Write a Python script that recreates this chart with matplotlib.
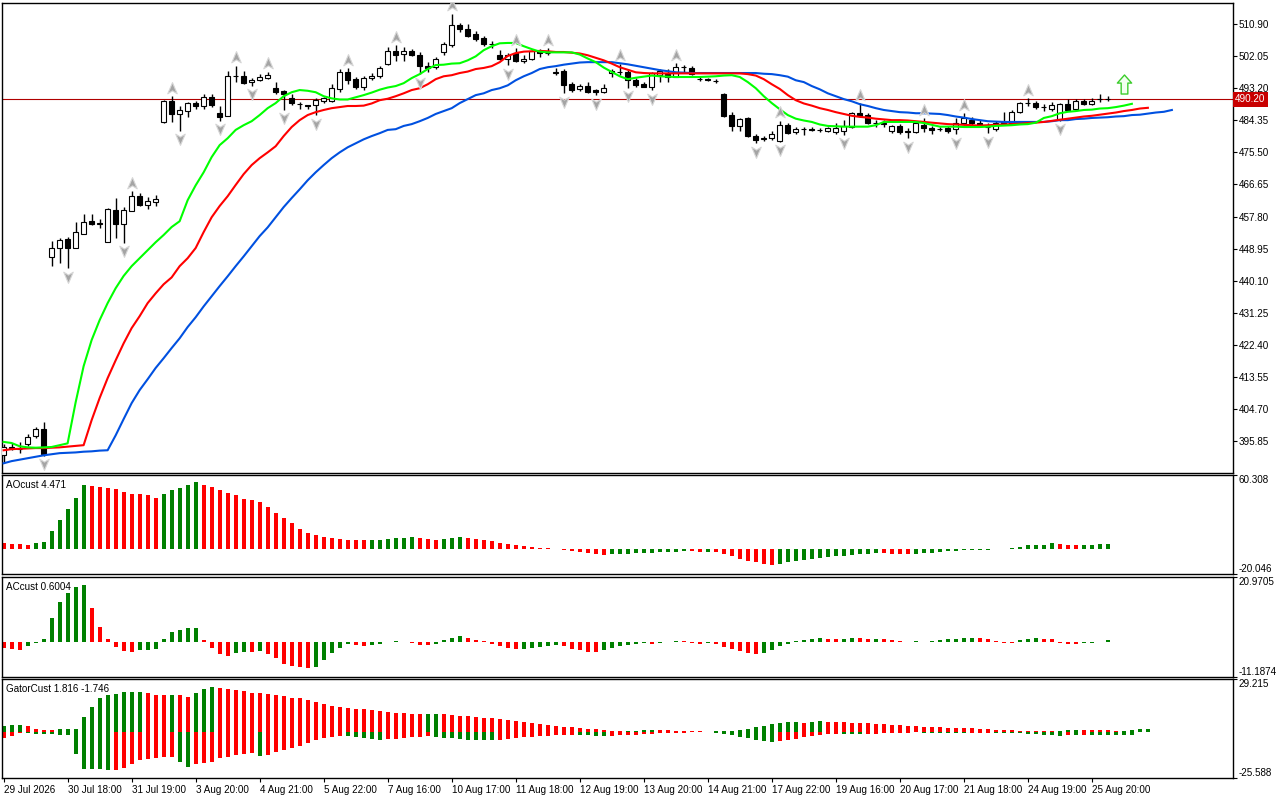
import numpy as np
import matplotlib.pyplot as plt
from matplotlib.path import Path
from matplotlib import transforms

# candles (one per bar, 139 bars)
opens = [392.0, 394.0, 393.6, 394.9, 397.1, 399.1, 446.5, 449.0, 451.5, 449.2,
         453.1, 456.5, 455.8, 450.8, 459.5, 455.6, 459.4, 463.4, 461.1, 461.9,
         483.9, 489.7, 486.2, 487.0, 489.0, 488.4, 490.8, 486.5, 485.6, 496.6,
         496.6, 494.8, 495.4, 496.1, 493.4, 492.4, 490.6, 488.8, 488.7, 488.5,
         489.7, 489.7, 492.9, 497.7, 495.7, 493.6, 495.9, 496.5, 499.9, 503.4,
         502.6, 503.4, 502.5, 499.4, 499.1, 503.1, 505.1, 510.6, 509.5, 508.1,
         507.0, 505.3, 502.5, 501.4, 502.8, 500.8, 501.4, 503.4, 503.0, 497.5,
         498.0, 494.3, 492.9, 493.8, 492.7, 492.2, 497.3, 497.7, 497.7, 495.4,
         494.3, 493.6, 496.8, 497.1, 496.4, 499.0, 498.7, 495.7, 495.7, 495.3,
         491.5, 485.8, 482.8, 484.9, 480.1, 479.1, 479.6, 478.7, 483.0, 481.2,
         481.9, 482.0, 481.8, 481.5, 481.1, 481.4, 482.6, 486.3, 485.8, 483.5,
         483.7, 481.4, 482.8, 481.4, 481.0, 483.0, 482.3, 481.9, 482.1, 481.9,
         483.5, 484.4, 483.7, 482.6, 481.9, 483.7, 483.7, 486.7, 489.0, 489.0,
         487.9, 487.6, 484.6, 488.8, 487.4, 489.7, 488.8, 490.1, 490.2]
highs = [395.0, 395.2, 395.7, 397.8, 399.6, 401.0, 451.0, 451.8, 452.2, 456.2,
         458.5, 458.5, 457.0, 460.1, 462.8, 460.5, 464.8, 464.3, 463.3, 463.7,
         490.0, 491.0, 488.3, 489.5, 489.7, 491.5, 491.5, 488.4, 497.9, 499.4,
         497.9, 495.9, 497.1, 497.7, 494.8, 492.7, 491.5, 489.5, 488.7, 490.4,
         490.8, 494.5, 498.4, 498.7, 496.2, 496.5, 497.3, 499.3, 504.6, 505.1,
         504.6, 504.0, 503.3, 500.5, 501.9, 505.9, 513.7, 511.1, 510.9, 508.9,
         507.6, 506.1, 503.7, 502.8, 504.2, 502.5, 503.7, 503.9, 504.2, 498.7,
         498.4, 494.9, 494.4, 494.8, 492.9, 494.4, 498.6, 499.9, 498.4, 496.0,
         494.9, 497.7, 498.4, 498.4, 500.1, 499.5, 499.2, 496.2, 496.0, 495.8,
         491.8, 486.7, 485.0, 485.3, 480.5, 479.9, 481.5, 484.2, 483.5, 482.4,
         482.6, 482.5, 482.3, 482.6, 483.7, 484.4, 486.6, 489.0, 486.5, 484.5,
         484.3, 483.0, 483.3, 482.1, 483.9, 484.9, 482.8, 482.5, 482.8, 484.9,
         486.3, 485.3, 484.4, 483.5, 484.2, 486.7, 487.2, 489.5, 490.4, 489.6,
         488.8, 489.4, 489.1, 490.1, 490.1, 490.1, 490.4, 491.5, 491.1]
lows = [389.8, 393.4, 392.5, 394.5, 396.6, 391.8, 444.1, 445.0, 443.5, 449.0,
        453.0, 455.4, 454.5, 450.7, 452.0, 450.5, 459.2, 460.8, 460.0, 460.8,
        483.7, 483.9, 481.5, 485.3, 487.4, 487.5, 488.1, 484.2, 485.6, 495.0,
        494.5, 493.9, 495.3, 495.7, 491.5, 487.2, 488.5, 487.6, 487.6, 485.8,
        489.2, 489.5, 492.2, 494.5, 493.1, 492.8, 495.4, 495.9, 499.6, 500.8,
        500.8, 502.0, 497.0, 497.8, 498.6, 502.5, 504.6, 508.8, 507.4, 506.2,
        504.8, 504.4, 501.0, 499.6, 500.5, 500.1, 500.9, 501.9, 502.3, 496.8,
        491.8, 492.2, 492.4, 491.9, 491.3, 491.8, 496.4, 496.8, 493.4, 493.6,
        493.5, 492.7, 495.0, 495.0, 496.2, 497.7, 496.8, 495.3, 495.1, 494.6,
        485.2, 481.5, 481.3, 479.8, 478.0, 478.7, 478.8, 478.4, 480.5, 480.7,
        480.4, 481.3, 481.2, 481.1, 480.6, 480.3, 482.3, 485.3, 483.2, 482.5,
        482.5, 480.9, 480.6, 479.4, 480.9, 481.2, 480.6, 481.3, 480.8, 480.5,
        483.0, 482.9, 482.6, 480.8, 481.5, 483.0, 483.3, 486.5, 488.3, 487.6,
        486.8, 486.8, 484.2, 487.0, 486.9, 488.5, 488.5, 489.5, 489.7]
closes = [394.3, 394.1, 393.7, 396.9, 399.1, 392.4, 449.0, 451.3, 449.2, 453.4,
          456.2, 455.7, 455.9, 459.8, 455.6, 459.6, 463.4, 461.0, 462.0, 462.6,
          489.7, 486.2, 487.2, 489.0, 488.4, 490.8, 488.5, 485.2, 496.6, 496.7,
          494.7, 495.6, 496.2, 496.8, 492.2, 491.5, 489.0, 488.8, 488.3, 489.9,
          490.4, 493.2, 497.7, 495.4, 493.6, 495.9, 496.5, 498.7, 503.4, 502.5,
          503.4, 502.3, 499.3, 498.7, 501.4, 505.3, 510.6, 509.5, 507.7, 506.8,
          505.4, 505.4, 501.2, 502.3, 500.8, 501.4, 503.4, 502.8, 503.0, 497.6,
          494.1, 492.7, 493.8, 492.2, 492.2, 493.4, 498.0, 497.8, 495.4, 494.1,
          493.6, 497.3, 498.0, 496.4, 499.1, 499.0, 497.1, 495.7, 495.4, 495.3,
          485.5, 482.8, 484.7, 480.0, 478.9, 479.6, 480.5, 483.0, 480.9, 481.9,
          481.9, 481.6, 481.7, 482.2, 482.1, 482.8, 486.3, 485.6, 483.5, 483.6,
          483.3, 482.8, 481.0, 481.0, 483.5, 482.1, 481.7, 481.9, 481.5, 483.5,
          484.9, 483.5, 483.0, 482.6, 483.7, 483.9, 486.7, 489.0, 489.0, 487.9,
          487.9, 488.5, 488.8, 487.2, 489.7, 488.8, 489.8, 490.1, 490.2]

# alligator lines, already shifted forward (jaw 8, teeth 5, lips 3 bars)
jaw = [389.7, 390.3, 390.7, 391.1, 391.5, 391.9, 392.2, 392.5, 392.6, 392.7,
       392.9, 393.0, 393.2, 393.3, 397.4, 401.9, 406.3, 409.9, 412.9, 416.0,
       418.7, 421.5, 424.2, 427.3, 430.0, 433.0, 435.8, 438.6, 441.3, 444.1,
       446.8, 449.6, 452.4, 454.8, 457.6, 460.4, 462.9, 465.3, 467.8, 470.0,
       472.0, 473.9, 475.5, 476.9, 478.0, 479.1, 480.0, 480.8, 481.7, 481.9,
       482.8, 483.3, 484.1, 485.0, 486.1, 486.9, 487.7, 489.1, 490.2, 491.3,
       491.8, 492.7, 493.2, 494.0, 495.4, 496.5, 497.4, 498.5, 499.0, 499.3,
       499.7, 500.0, 500.3, 500.4, 500.4, 500.4, 500.4, 500.1, 499.8, 499.4,
       499.0, 498.6, 498.2, 497.9, 497.6, 497.5, 497.4, 497.4, 497.4, 497.4,
       497.4, 497.4, 497.4, 497.4, 497.4, 497.2, 497.1, 496.8, 496.4, 495.4,
       494.9, 493.8, 492.9, 491.8, 491.0, 490.2, 489.6, 488.8, 488.3, 487.7,
       487.2, 486.9, 486.6, 486.5, 486.3, 486.3, 486.2, 486.1, 485.8, 485.4,
       485.1, 484.7, 484.4, 484.1, 484.0, 483.9, 483.9, 483.9, 483.9, 483.9,
       483.9, 484.1, 484.4, 484.4, 484.7, 484.8, 485.0, 485.1, 485.2, 485.4,
       485.5, 485.8, 485.9, 486.2, 486.5, 486.7, 487.2]
teeth = [393.3, 393.6, 393.7, 393.8, 393.9, 393.9, 394.0, 394.1, 394.3, 394.5,
         394.7, 401.6, 407.7, 413.2, 418.1, 422.8, 427.0, 430.3, 433.9, 436.6,
         439.1, 441.0, 444.1, 446.3, 449.1, 453.5, 457.6, 460.7, 463.4, 466.5,
         469.5, 472.0, 473.9, 475.5, 477.2, 480.0, 482.5, 484.4, 485.8, 486.6,
         487.2, 487.7, 488.0, 488.3, 488.3, 488.4, 489.0, 489.9, 490.3, 491.0,
         491.8, 492.7, 493.2, 494.3, 495.7, 496.5, 496.8, 497.4, 497.8, 498.5,
         498.8, 499.3, 500.4, 502.1, 502.9, 503.3, 503.4, 503.5, 503.4, 503.2,
         503.2, 503.0, 502.8, 502.3, 501.6, 500.9, 500.0, 499.0, 498.3, 497.6,
         497.4, 497.3, 497.3, 497.3, 497.3, 497.3, 497.3, 497.3, 497.3, 497.3,
         497.3, 497.3, 497.3, 497.1, 496.7, 495.7, 494.3, 493.0, 491.3, 489.9,
         489.0, 488.4, 487.7, 487.2, 486.6, 486.1, 485.6, 485.3, 485.1, 484.8,
         484.6, 484.4, 484.4, 484.3, 484.1, 483.9, 483.7, 483.5, 483.3, 483.2,
         483.1, 483.0, 482.9, 483.0, 483.1, 483.2, 483.3, 483.4, 483.6, 483.7,
         483.9, 484.2, 484.5, 484.8, 485.1, 485.4, 485.6, 485.9, 486.2, 486.5,
         486.9, 487.2, 487.6, 487.8]
lips = [395.6, 395.3, 394.4, 394.1, 394.0, 394.1, 394.2, 394.7, 395.2, 406.5,
        416.5, 423.7, 429.2, 433.9, 438.0, 441.4, 444.1, 446.3, 448.5, 450.7,
        452.7, 454.9, 456.5, 462.3, 466.4, 470.0, 474.2, 477.5, 479.4, 481.7,
        483.0, 484.1, 485.8, 487.7, 489.1, 491.0, 492.1, 492.7, 492.5, 492.1,
        491.0, 490.4, 490.1, 490.1, 490.7, 491.3, 492.0, 492.8, 493.4, 493.8,
        494.6, 496.0, 497.1, 498.5, 499.6, 499.7, 500.0, 500.1, 500.9, 502.0,
        503.7, 504.8, 505.6, 505.7, 505.7, 504.8, 504.0, 503.3, 503.1, 503.1,
        503.1, 503.1, 502.5, 501.4, 500.4, 498.9, 497.7, 496.5, 495.7, 496.1,
        496.4, 496.7, 496.5, 496.4, 496.3, 496.3, 496.3, 496.3, 496.4, 496.5,
        496.7, 496.8, 496.3, 494.9, 493.2, 491.0, 489.1, 487.4, 485.8, 484.8,
        484.3, 483.9, 483.2, 482.8, 482.7, 482.6, 482.6, 482.6, 482.6, 483.0,
        483.9, 483.9, 483.9, 483.9, 483.9, 483.6, 483.1, 482.6, 482.6, 482.6,
        482.5, 482.5, 482.5, 482.6, 482.8, 482.9, 483.0, 483.2, 483.3, 483.7,
        485.0, 485.5, 486.3, 486.7, 486.9, 487.2, 487.3, 487.6, 487.7, 488.0,
        488.4, 488.9]

fractal_up = [16, 21, 29, 33, 43, 49, 56, 64, 68, 77, 84, 97, 107, 115, 120, 128]
fractal_down = [5, 8, 15, 22, 27, 31, 35, 39, 52, 63, 70, 74, 78, 81, 94, 97,
                105, 113, 119, 123, 132]
signal_bar = 140
signal_price = 494.5
last_price = 490.20

ao = [5.0, 4.8, 4.1, 4.0, 4.9, 6.0, 15.0, 24.0, 32.8, 41.8,
      51.9, 51.1, 50.0, 49.8, 48.4, 46.7, 45.1, 44.5, 43.7, 41.8,
      45.1, 47.8, 49.2, 51.9, 54.1, 51.9, 50.0, 47.6, 45.4, 44.3,
      41.0, 39.6, 38.0, 33.9, 29.8, 25.4, 21.3, 16.4, 13.1, 11.5,
      10.4, 9.5, 8.8, 8.0, 7.5, 7.3, 7.4, 7.8, 8.5, 9.0,
      9.5, 9.8, 9.0, 8.5, 8.0, 8.2, 9.0, 10.0, 9.5, 8.6,
      7.5, 6.5, 5.5, 4.5, 3.5, 2.8, 2.0, 1.4, 0.8, 0.3,
      -0.3, -1.0, -2.0, -3.0, -3.8, -4.2, -4.0, -3.7, -3.4, -3.1,
      -2.8, -2.5, -2.2, -1.9, -1.7, -1.5, -1.6, -2.0, -1.8, -2.2,
      -3.5, -5.5, -7.5, -9.0, -10.5, -11.8, -12.2, -11.5, -10.5, -9.5,
      -8.7, -7.9, -7.0, -6.3, -5.6, -5.0, -4.3, -3.8, -3.3, -3.0,
      -3.2, -3.4, -3.6, -3.7, -3.4, -3.0, -2.5, -2.0, -1.5, -1.0,
      -0.7, -0.5, -0.3, -0.1, 0.2, 0.5, 0.9, 2.0, 3.3, 3.8,
      4.0, 4.9, 4.1, 4.0, 3.3, 3.5, 3.8, 4.2, 4.471]
ac = [-1.7, -2.3, -2.35, -1.2, -0.3, 1.0, 7.9, 13.0, 15.8, 17.6,
      18.3, 10.8, 5.0, 1.0, -1.5, -2.9, -2.95, -2.6, -2.5, -2.3,
      1.2, 3.2, 3.9, 4.5, 4.6, 0.6, -1.8, -3.9, -4.4, -3.5,
      -3.1, -3.2, -2.9, -3.7, -5.1, -6.9, -7.5, -8.0, -8.3, -8.0,
      -5.8, -3.5, -1.8, -0.6, -0.9, -1.2, -0.8, -0.5, 0.2, 0.4,
      0.1, -0.2, -0.8, -1.0, -0.4, 0.6, 1.5, 1.9, 1.3, 0.8,
      0.4, -0.5, -1.2, -1.8, -2.2, -2.0, -1.7, -1.4, -1.1, -0.8,
      -1.3, -2.0, -2.6, -3.0, -3.2, -2.6, -1.8, -1.2, -0.8, -0.4,
      -0.2, -0.5, -0.3, 0.2, 0.5, 0.3, -0.2, -0.5, -0.3, -0.6,
      -1.5, -2.3, -2.9, -3.4, -3.8, -3.3, -2.5, -1.3, -0.4, 0.3,
      0.8, 1.1, 1.3, 1.2, 1.1, 1.2, 1.4, 1.3, 1.0, 1.2,
      1.1, 0.8, 0.5, 0.2, 0.4, 0.1, 0.3, 0.6, 0.9, 1.2,
      1.25, 1.5, 1.4, 0.9, 0.3, -0.1, -0.3, 0.6, 1.2, 1.5,
      1.2, 0.9, -0.3, -0.5, -0.6, -0.3, -0.1, 0.2, 0.6004]
gator_up = [3.1, 3.7, 3.75, 3.2, 1.9, 1.3, 1.2, 1.7, 1.8, 1.9,
            8.4, 14.0, 19.0, 20.3, 20.9, 21.8, 22.1, 22.2, 21.4, 20.5,
            20.3, 20.4, 20.2, 19.4, 21.4, 23.7, 24.6, 24.2, 23.7, 23.3,
            22.7, 21.5, 21.3, 20.9, 20.5, 19.9, 19.0, 18.6, 17.7, 16.8,
            15.3, 14.5, 13.8, 13.2, 12.9, 12.5, 12.0, 11.4, 11.0, 10.6,
            10.2, 9.9, 9.8, 10.0, 10.1, 9.7, 9.3, 9.0, 8.8, 8.3,
            7.8, 7.5, 7.0, 6.5, 6.0, 5.4, 4.8, 4.2, 3.6, 3.2,
            2.8, 2.5, 2.2, 1.8, 1.4, 1.0, 0.6, 0.3, 0.4, 0.8,
            1.1, 1.3, 1.2, 1.0, 0.8, 0.6, 0.4, 0.3, 0.2, 0.3,
            0.5, 0.8, 1.2, 1.8, 2.6, 3.4, 4.2, 4.8, 5.3, 5.5,
            5.2, 5.6, 5.8, 5.7, 5.5, 5.4, 5.2, 5.0, 4.8, 4.6,
            4.3, 4.0, 3.7, 3.4, 3.1, 2.9, 2.7, 2.5, 2.3, 2.2,
            2.0, 1.95, 1.9, 1.85, 1.2, 1.1, 0.9, 0.8, 0.6, 0.5,
            0.4, 0.3, 0.5, 0.9, 1.3, 1.25, 1.2, 1.15, 1.1, 0.5,
            0.6, 0.9, 1.4, 1.816]
gator_down = [-3.4, -2.4, -0.5, -0.6, -0.9, -0.93, -1.1, -1.5, -1.55, -12.1,
              -20.5, -20.55, -20.6, -21.1, -21.0, -19.8, -17.9, -15.5, -14.9, -14.6,
              -14.0, -13.6, -16.4, -19.2, -17.9, -17.3, -16.8, -14.6, -14.0, -12.7,
              -12.1, -11.8, -13.3, -12.7, -10.8, -9.9, -9.0, -8.0, -6.2, -4.7,
              -3.4, -2.6, -2.2, -2.4, -2.9, -3.5, -4.0, -4.3, -4.1, -3.8,
              -3.4, -2.9, -2.6, -2.5, -2.7, -3.1, -3.6, -4.0, -4.3, -4.4,
              -4.6, -4.7, -4.5, -4.0, -3.5, -3.0, -2.7, -2.5, -2.2, -1.9,
              -1.6, -1.4, -1.5, -1.8, -2.1, -2.2, -2.0, -1.8, -1.6, -1.4,
              -1.2, -1.0, -0.8, -0.6, -0.5, -0.3, -0.2, -0.1, -0.2, -0.5,
              -1.0, -1.8, -2.7, -3.6, -4.4, -5.0, -5.3, -5.2, -4.6, -3.8,
              -2.9, -2.2, -1.6, -1.2, -1.0, -1.1, -1.2, -1.3, -1.1, -0.9,
              -0.7, -0.5, -0.4, -0.3, -0.2, -0.3, -0.4, -0.5, -0.6, -0.7,
              -0.75, -0.7, -0.6, -0.5, -0.55, -0.6, -0.65, -0.7, -0.9, -1.1,
              -1.5, -1.9, -2.0, -1.8, -1.9, -1.5, -1.55, -1.6, -1.65, -1.7,
              -1.72, -1.746]

price_ticks = [510.90, 502.05, 493.20, 484.35, 475.50, 466.65, 457.80,
               448.95, 440.10, 431.25, 422.40, 413.55, 404.70, 395.85]
time_labels = ['29 Jul 2026', '30 Jul 18:00', '31 Jul 19:00', '3 Aug 20:00',
               '4 Aug 21:00', '5 Aug 22:00', '7 Aug 16:00', '10 Aug 17:00',
               '11 Aug 18:00', '12 Aug 19:00', '13 Aug 20:00', '14 Aug 21:00',
               '17 Aug 22:00', '19 Aug 16:00', '20 Aug 17:00', '21 Aug 18:00',
               '24 Aug 19:00', '25 Aug 20:00']

plt.rcParams['font.family'] = ['Liberation Sans', 'DejaVu Sans']
FS = 7.1

GREEN = '#008000'
RED = '#ff0000'


def trend_colors(vals, first, use_abs=False):
    v = np.abs(vals) if use_abs else np.asarray(vals)
    cols = [first]
    for a, b in zip(v[:-1], v[1:]):
        cols.append(GREEN if b > a else RED)
    return cols


fig = plt.figure(figsize=(12.8, 8), dpi=100)
L, W = 2 / 1280, 1230.7 / 1280
ax = fig.add_axes([L, 0.4091, W, 0.5875])
ax_ao = fig.add_axes([L, 0.2821, W, 0.1245])
ax_ac = fig.add_axes([L, 0.1534, W, 0.1258])
ax_gt = fig.add_axes([L, 0.0271, W, 0.1241])

for a in (ax, ax_ao, ax_ac, ax_gt):
    a.set_xlim(-0.2, 153.6)
    for s in a.spines.values():
        s.set_linewidth(1.0)
    a.yaxis.tick_right()
    a.tick_params(axis='y', direction='out', length=3, width=0.8, pad=1.5, labelsize=FS)
    a.tick_params(axis='x', bottom=False, labelbottom=False)

# main chart
o, h, l, c = map(np.array, (opens, highs, lows, closes))
idx = np.arange(len(o))
bull = c >= o
ax.axhline(last_price, color='#b00000', lw=0.8, zorder=1)
ax.vlines(idx, l, h, color='black', lw=1.0, zorder=2)
ax.bar(idx, np.abs(c - o), bottom=np.minimum(o, c), width=0.62,
       color=['white' if b else 'black' for b in bull],
       edgecolor='black', linewidth=0.8, zorder=3)

ax.plot(np.arange(len(jaw)), jaw, color='#0050e0', lw=1.5, zorder=4)
ax.plot(np.arange(len(teeth)), teeth, color='#ff0000', lw=1.5, zorder=4)
ax.plot(np.arange(len(lips)), lips, color='#00ff00', lw=1.5, zorder=4)

up_path = Path([(0, 1), (0.8, -0.9), (0, -0.4), (-0.8, -0.9), (0, 1)],
               [Path.MOVETO, Path.LINETO, Path.LINETO, Path.LINETO, Path.CLOSEPOLY])
down_path = Path(up_path.vertices * [1, -1], up_path.codes)
t_up = transforms.offset_copy(ax.transData, fig=fig, y=8.5, units='dots')
t_dn = transforms.offset_copy(ax.transData, fig=fig, y=-8.5, units='dots')
ax.plot(fractal_up, h[fractal_up], ls='none', marker=up_path, ms=8.5,
        mfc='#a4a4a4', mec='#d6d6d6', mew=0.8, transform=t_up, zorder=5)
ax.plot(fractal_down, l[fractal_down], ls='none', marker=down_path, ms=8.5,
        mfc='#a4a4a4', mec='#d6d6d6', mew=0.8, transform=t_dn, zorder=5)

arrow_path = Path([(0, 1), (0.75, 0.15), (0.35, 0.15), (0.35, -1), (-0.35, -1),
                   (-0.35, 0.15), (-0.75, 0.15), (0, 1)],
                  [Path.MOVETO] + [Path.LINETO] * 6 + [Path.CLOSEPOLY])
ax.plot([signal_bar], [signal_price], ls='none', marker=arrow_path, ms=13.7,
        mfc='#f2fff0', mec='#3ccc2c', mew=1.0, zorder=5)

ax.set_ylim(387.1, 516.8)
ax.set_yticks(price_ticks, [f'{p:.2f}' for p in price_ticks])
ax.text(1.0 + 2.5 / 1230.7, last_price, f'{last_price:.2f}',
        transform=transforms.blended_transform_factory(ax.transAxes, ax.transData),
        ha='left', va='center', color='white', fontsize=FS,
        bbox=dict(boxstyle='square,pad=0.25', fc='#c80000', ec='none'))

# oscillators
panels = [
    (ax_ao, ao, trend_colors(ao, RED), (-20.046, 60.308), ('-20.046', '60.308'), 'AOcust 4.471'),
    (ax_ac, ac, trend_colors(ac, RED), (-11.1874, 20.9705), ('-11.1874', '20.9705'), 'ACcust 0.6004'),
]
for a, vals, cols, lim, labs, title in panels:
    a.bar(np.arange(len(vals)), vals, width=0.5, color=cols, linewidth=0)
    a.set_ylim(*lim)
    a.set_yticks(list(lim), list(labs))
    tl = a.get_yticklabels()
    tl[0].set_va('bottom')
    tl[1].set_va('top')
    a.text(0.0033, 0.95, title, transform=a.transAxes, ha='left', va='top', fontsize=FS)

ax_gt.bar(np.arange(len(gator_up)), gator_up, width=0.5,
          color=trend_colors(gator_up, GREEN), linewidth=0)
ax_gt.bar(np.arange(len(gator_down)), gator_down, width=0.5,
          color=trend_colors(gator_down, RED, use_abs=True), linewidth=0)
ax_gt.set_ylim(-25.588, 29.215)
ax_gt.set_yticks([-25.588, 29.215], ['-25.588', '29.215'])
tl = ax_gt.get_yticklabels()
tl[0].set_va('bottom')
tl[1].set_va('top')
ax_gt.text(0.0033, 0.95, 'GatorCust 1.816 -1.746', transform=ax_gt.transAxes,
           ha='left', va='top', fontsize=FS)

ax_gt.set_xticks(np.arange(0, 8 * len(time_labels), 8), time_labels)
ax_gt.tick_params(axis='x', bottom=True, labelbottom=True, direction='out',
                  length=3, width=0.8, pad=1.5, labelsize=FS)
for t in ax_gt.get_xticklabels():
    t.set_ha('left')

fig.savefig('out.png', dpi=100, facecolor='white')
